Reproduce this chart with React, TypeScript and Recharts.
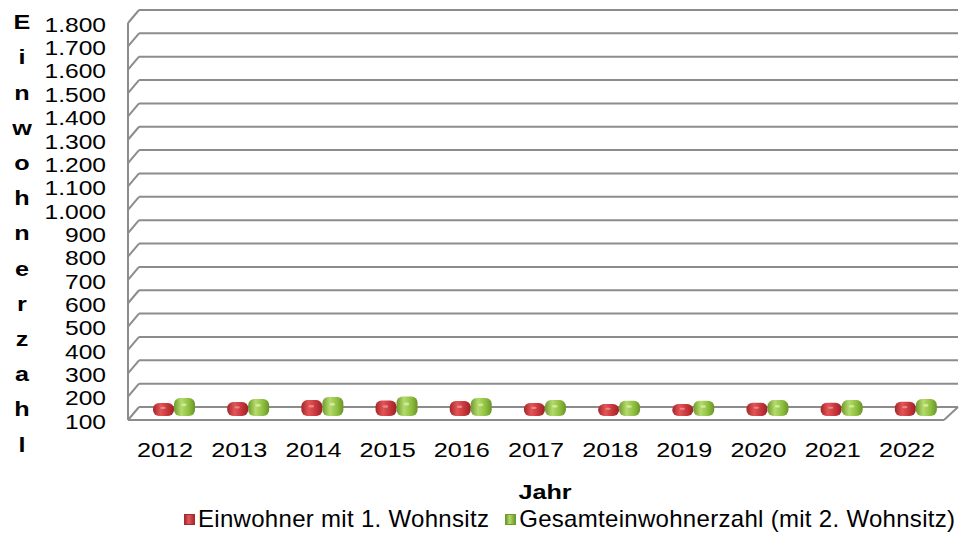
import { BarChart, Bar, XAxis, YAxis, CartesianGrid, Legend } from 'recharts';

const years = ['2012', '2013', '2014', '2015', '2016', '2017', '2018', '2019', '2020', '2021', '2022'];
const erstwohnsitz = [156, 160, 168, 166, 164, 156, 151, 151, 157, 157, 161];
const gesamt = [177, 173, 181, 183, 177, 168, 165, 165, 168, 168, 173];
const yTicks = [100, 200, 300, 400, 500, 600, 700, 800, 900, 1000, 1100, 1200, 1300, 1400, 1500, 1600, 1700, 1800];
const yTitle = 'Einwohnerzahl';
const xTitle = 'Jahr';
const seriesNames = ['Einwohner mit 1. Wohnsitz', 'Gesamteinwohnerzahl (mit 2. Wohnsitz)'];

const data = years.map((year, i) => ({ year, erst: erstwohnsitz[i], gesamt: gesamt[i] }));

const W = 964;
const H = 534;
const margin = { top: 23, right: 20, left: 0, bottom: 0 };
const AXIS_W = 128;
const PLOT_LEFT = AXIS_W;
const PLOT_RIGHT = W - margin.right;
const DEPTH_X_LEFT = 11;
const DEPTH_X_RIGHT = 14;
const DEPTH_Y = 13;
const GRID = '#8c8c8c';
const FONT = 'Liberation Sans, Arial, sans-serif';
const STRETCH = 1.2;

const fmt = (v: number) => (v >= 1000 ? `${Math.floor(v / 1000)}.${String(v % 1000).padStart(3, '0')}` : String(v));

const YTick = (p: any) => {
  const y = p.y;
  const v = p.payload.value;
  return (
    <g>
      <line x1={PLOT_LEFT} y1={y} x2={PLOT_LEFT + DEPTH_X_LEFT} y2={y - DEPTH_Y} stroke={GRID} strokeWidth={2} />
      {v === yTicks[0] && (
        <line x1={PLOT_RIGHT} y1={y} x2={PLOT_RIGHT + DEPTH_X_RIGHT} y2={y - DEPTH_Y} stroke={GRID} strokeWidth={2} />
      )}
      <g transform={`translate(106, ${y + 2}) scale(${STRETCH}, 1)`}>
        <text x={0} y={0} textAnchor="end" dominantBaseline="central" fontSize={20.5} fill="#000" fontFamily={FONT}>
          {fmt(v)}
        </text>
      </g>
    </g>
  );
};

const XTick = (p: any) => (
  <g transform={`translate(${p.x}, ${p.y}) scale(${STRETCH}, 1)`}>
    <text x={0} y={0} textAnchor="middle" dominantBaseline="central" fontSize={21} fill="#000" fontFamily={FONT}>
      {p.payload.value}
    </text>
  </g>
);

const gridLine = (p: any) => (
  <line key={p.key} x1={p.x1 + DEPTH_X_LEFT} y1={p.y1 - DEPTH_Y} x2={p.x2 + DEPTH_X_RIGHT} y2={p.y2 - DEPTH_Y} stroke={GRID} strokeWidth={2} />
);

const makeShape = (grad: string, hi: string) => (p: any) => {
  const x = p.x + 9;
  const y = p.y - 4;
  const w = p.width;
  const h = Math.max(p.height, 0);
  return (
    <g>
      <rect x={x} y={y} width={w} height={h} rx={6} ry={6} fill={`url(#${grad})`} />
      <rect x={x + w * 0.35} y={y + h * 0.3} width={w * 0.25} height={Math.max(h * 0.16, 2)} rx={1.5} fill={hi} opacity={0.7} />
    </g>
  );
};

const YTitle = () => (
  <g>
    {yTitle.split('').map((c, i) => (
      <g key={i} transform={`translate(22, ${22 + i * 35.2}) scale(${STRETCH}, 1)`}>
        <text x={0} y={0} textAnchor="middle" dominantBaseline="central" fontSize={21} fontWeight="bold" fill="#000" fontFamily={FONT}>
          {c}
        </text>
      </g>
    ))}
  </g>
);

const XTitle = (p: any) => {
  const vb = p.viewBox;
  return (
    <g transform={`translate(${vb.x + vb.width / 2 + 9}, 492) scale(${STRETCH}, 1)`}>
      <text x={0} y={0} textAnchor="middle" dominantBaseline="central" fontSize={21} fontWeight="bold" fill="#000" fontFamily={FONT}>
        {xTitle}
      </text>
    </g>
  );
};

const marker = (c1: string, c2: string) => (
  <span
    style={{
      display: 'inline-block',
      flex: '0 0 11px',
      width: 11,
      height: 11,
      background: `linear-gradient(90deg, ${c2}, ${c1} 40%, ${c2})`,
      border: `1px solid ${c2}`,
      marginRight: 3,
      boxSizing: 'border-box',
    }}
  />
);

const LegendContent = () => (
  <div
    style={{
      display: 'flex',
      alignItems: 'center',
      paddingLeft: 184,
      height: 30,
      fontFamily: FONT,
      fontSize: 24,
      letterSpacing: 0.3,
      color: '#000',
      whiteSpace: 'nowrap',
    }}
  >
    {marker('#e05a5c', '#a82a2d')}
    <span style={{ marginRight: 16 }}>{seriesNames[0]}</span>
    {marker('#b2d96a', '#6f9a2c')}
    <span>{seriesNames[1]}</span>
  </div>
);

export default function App() {
  return (
    <div style={{ width: W, height: H, background: '#fff' }}>
      <style>{'body{margin:0}'}</style>
      <BarChart width={W} height={H} data={data} margin={margin} barSize={21} barGap={0}>
        <defs>
          <linearGradient id="gRed" x1="0" y1="0" x2="1" y2="0">
            <stop offset="0%" stopColor="#a32628" />
            <stop offset="35%" stopColor="#e25557" />
            <stop offset="70%" stopColor="#c6363a" />
            <stop offset="100%" stopColor="#982326" />
          </linearGradient>
          <linearGradient id="gGreen" x1="0" y1="0" x2="1" y2="0">
            <stop offset="0%" stopColor="#6f9a2c" />
            <stop offset="35%" stopColor="#b4da6c" />
            <stop offset="70%" stopColor="#8fc040" />
            <stop offset="100%" stopColor="#6a9428" />
          </linearGradient>
        </defs>
        <CartesianGrid vertical={false} horizontal={gridLine} />
        <XAxis
          dataKey="year"
          height={84}
          tickLine={false}
          tickSize={0}
          tickMargin={30}
          axisLine={{ stroke: GRID, strokeWidth: 2 }}
          tick={<XTick />}
          interval={0}
          label={<XTitle />}
        />
        <YAxis
          width={AXIS_W}
          domain={[100, 1800]}
          ticks={yTicks}
          interval={0}
          tickLine={false}
          axisLine={{ stroke: GRID, strokeWidth: 2 }}
          tick={<YTick />}
          label={<YTitle />}
        />
        <Legend verticalAlign="bottom" height={30} content={<LegendContent />} />
        <Bar dataKey="erst" name={seriesNames[0]} fill="#c6363a" shape={makeShape('gRed', '#f4a0a0')} isAnimationActive={false} />
        <Bar dataKey="gesamt" name={seriesNames[1]} fill="#8fc040" shape={makeShape('gGreen', '#e0f5b0')} isAnimationActive={false} />
      </BarChart>
    </div>
  );
}
